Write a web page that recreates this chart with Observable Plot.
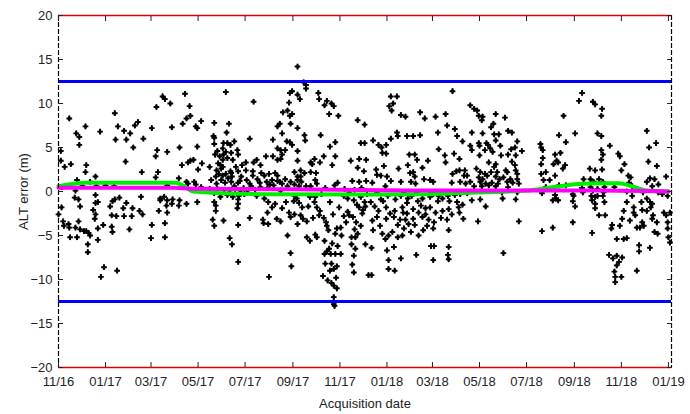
<!DOCTYPE html>
<html><head><meta charset="utf-8">
<script src="https://cdn.jsdelivr.net/npm/d3@7"></script>
<script src="https://cdn.jsdelivr.net/npm/@observablehq/plot@0.6"></script>
<style>body{margin:0;background:#fff} svg{display:block}</style>
</head><body><div id="chart"></div>
<script>
const startDate = "2016-11-01";
const endDate = "2019-01-05";
const yTicks = [-20, -15, -10, -5, 0, 5, 10, 15, 20];
const limits = [12.5, -12.5];
const xLabel = "Acquisition date";
const yLabel = "ALT error (m)";

// [days since start, ALT error (m)]
const segNov16 = [[73,8.9],[127,9.6],[14,8.3],[35,7.4],[77,7.4],[103,7.9],[99,7.5],[121,7.2],[54,6.8],[85,6.9],[93,6.6],[23,6.6],[27,6.2],[74,5.9],[88,5.9],[110,6.0],[27,5.3],[97,5.0],[128,4.7],[3,4.6],[126,4.0],[3,3.5],[87,3.4],[16,3.1],[8,2.8],[36,3.0],[35,2.2],[108,2.2],[129,2.2],[48,1.7],[126,1.6],[24,1.3],[41,1.1],[4,0.5],[31,0.6],[61,0.7],[72,0.6],[22,0.1],[49,0.6],[48,-0.4],[21,-0.7],[26,-0.9],[73,-0.9],[79,-0.7],[70,-1.1],[107,-0.6],[132,-0.8],[48,-1.3],[51,-1.2],[88,-1.3],[28,-1.7],[4,-1.8],[67,-1.7],[84,-1.9],[96,-1.9],[45,-2.1],[130,-2.2],[0,-2.6],[48,-2.6],[105,-2.2],[109,-2.6],[69,-2.7],[75,-2.8],[85,-2.8],[95,-2.8],[6,-3.4],[13,-3.7],[26,-3.4],[47,-3.1],[7,-3.9],[14,-4.1],[22,-4.1],[28,-4.3],[33,-4.5],[36,-4.5],[39,-4.7],[58,-3.8],[51,-4.2],[69,-4.0],[70,-4.6],[92,-4.3],[121,-3.8],[15,-5.2],[24,-5.2],[41,-5.0],[51,-5.5],[120,-5.3],[38,-6.0],[38,-6.9],[59,-8.6],[76,-9.0],[55,-9.7]];

const segMar17 = [[217,11.3],[164,11.1],[135,10.8],[138,10.5],[145,10.0],[253,10.2],[170,9.7],[171,8.6],[166,8.3],[185,8.0],[161,7.7],[178,7.4],[180,7.2],[147,7.3],[202,7.8],[221,7.7],[218,6.7],[201,6.3],[202,6.1],[248,6.0],[228,5.7],[214,5.5],[219,5.5],[223,5.3],[202,5.4],[157,5.0],[180,5.1],[213,4.9],[232,4.7],[206,4.6],[217,4.5],[224,4.4],[141,4.5],[203,4.2],[214,4.2],[233,4.2],[209,4.0],[219,3.8],[213,3.6],[257,3.6],[171,3.5],[175,3.6],[186,3.2],[160,3.0],[168,3.3],[243,3.3],[210,3.0],[213,2.8],[253,3.3],[262,3.0],[181,2.5],[205,2.4],[223,2.3],[233,2.3],[243,2.4],[252,2.3],[263,2.1],[208,2.0],[217,2.0],[224,2.1],[204,1.7],[213,1.8],[225,1.7],[237,1.7],[252,1.8],[156,1.5],[211,1.3],[224,1.1],[235,1.2],[244,1.3],[258,1.4],[267,1.8],[166,1.1],[176,1.1],[168,0.9],[178,0.8],[185,0.5],[205,0.9],[216,1.0],[233,1.0],[248,0.9],[261,1.0],[141,0.7],[202,-0.2],[219,-0.4],[226,-0.6],[234,-0.5],[241,-0.3],[257,-0.5],[137,-0.6],[132,-1.0],[141,-1.0],[148,-0.9],[157,-1.0],[147,-1.4],[166,-1.4],[180,-1.2],[202,-1.2],[233,-0.9],[233,-1.4],[156,-1.6],[140,-1.6],[204,-1.6],[232,-1.9],[141,-2.4],[204,-2.2],[267,-0.8],[138,-3.6],[200,-3.2],[214,-3.3],[202,-3.9],[248,-3.0],[233,-3.8],[265,-3.2],[266,-3.6],[138,-5.2],[222,-5.3],[225,-6.0],[233,-8.0],[207,3.2],[211,2.6],[220,1.5],[228,0.6],[206,0.3],[215,0.2],[222,-0.1],[229,0.3],[240,0.4],[245,-0.1],[250,0.6],[255,0.2],[262,0.5],[198,1.3],[196,2.8],[226,3.6],[236,0.1],[230,2.8],[238,3.0],[210,-0.6],[196,0.3]];

const segAug17 = [[310,14.2],[318,12.4],[321,12.1],[321,11.7],[303,11.4],[310,11.0],[313,10.5],[300,11.2],[337,11.2],[338,10.5],[299,10.1],[348,10.3],[345,9.8],[354,10.0],[357,9.7],[351,8.8],[363,8.6],[297,9.2],[291,9.0],[303,8.8],[300,8.6],[388,8.1],[397,7.6],[287,7.7],[284,7.4],[301,7.7],[310,7.2],[290,6.6],[319,6.4],[320,5.8],[340,6.4],[278,5.9],[296,5.7],[300,5.6],[303,5.3],[284,4.9],[288,4.7],[294,4.7],[359,5.6],[352,5.1],[392,5.5],[397,5.5],[310,4.6],[269,4.0],[278,4.0],[290,4.2],[288,3.7],[284,3.6],[332,3.7],[344,4.0],[359,4.0],[379,3.5],[390,3.7],[399,3.6],[310,3.5],[327,3.3],[339,3.3],[329,3.1],[355,3.0],[388,2.7],[396,2.3],[306,2.2],[314,2.4],[319,2.1],[327,2.2],[334,2.1],[281,2.1],[273,2.0],[284,1.8],[314,1.7],[310,1.7],[294,1.4],[277,1.3],[284,1.2],[287,1.1],[270,1.1],[301,1.1],[310,1.3],[315,1.1],[333,1.3],[335,0.9],[362,1.0],[381,1.2],[390,1.1],[399,1.2],[274,0.8],[279,0.7],[290,0.9],[297,0.6],[306,0.8],[312,0.6],[321,0.6],[327,0.6],[271,0.4],[288,0.1],[306,-0.5],[309,-0.8],[326,-0.6],[333,-0.6],[370,-0.5],[375,-0.8],[392,-0.6],[397,-1.2],[383,-1.0],[272,-1.2],[281,-1.4],[295,-1.2],[305,-1.1],[312,-1.3],[332,-1.2],[335,-1.8],[339,-2.2],[324,-1.7],[316,-1.8],[277,-1.8],[290,-1.9],[271,-2.4],[283,-3.1],[299,-2.4],[301,-2.9],[306,-2.6],[314,-2.7],[317,-3.1],[322,-3.4],[330,-3.0],[338,-2.7],[344,-3.0],[347,-3.5],[348,-3.9],[375,-2.3],[377,-2.7],[395,-2.1],[394,-2.5],[390,-1.8],[398,-1.7],[272,-3.7],[288,-3.4],[310,-3.7],[297,-5.0],[322,-5.2],[326,-5.6],[333,-4.9],[335,-5.2],[345,-5.6],[361,-4.2],[359,-4.8],[366,-4.1],[373,-3.5],[386,-3.5],[384,-4.3],[385,-5.2],[380,-6.0],[385,-6.5],[383,-7.3],[381,-8.3],[383,-9.2],[398,-6.0],[301,-7.0],[302,-8.5],[273,-9.7],[345,-7.1],[351,-6.5],[353,-7.1],[359,-7.1],[366,-7.1],[346,-8.2],[354,-8.2],[357,-8.8],[361,-8.5],[343,-9.6],[349,-10.1],[354,-10.4],[357,-10.7],[361,-11.0],[357,-12.0],[357,-12.8],[358,-13.0],[402,-9.5],[367,-5.0],[350,-4.4],[355,-5.9],[348,-6.8],[362,-6.2],[352,-9.0],[360,-9.8],[380,-5.2],[388,-4.8],[392,-3.9],[382,-2.9],[387,-1.5],[370,-2.8],[364,-1.8],[356,-2.6],[352,-1.2],[341,-0.3],[346,0.4],[358,0.7],[371,0.3],[377,-0.2],[384,0.2],[393,0.4],[400,-0.3]];

const segDec17 = [[511,11.4],[431,10.8],[439,10.8],[429,9.7],[434,10.0],[432,9.2],[444,8.7],[450,8.5],[469,9.0],[475,8.3],[489,8.5],[502,8.8],[534,9.8],[539,9.4],[504,7.5],[492,6.7],[514,7.1],[517,6.3],[524,5.7],[536,6.7],[439,6.7],[440,6.3],[452,6.3],[460,6.3],[469,6.4],[431,6.0],[408,5.8],[415,5.3],[425,5.3],[419,5.0],[420,4.4],[425,4.3],[455,4.2],[462,4.2],[465,3.6],[493,4.8],[501,4.1],[513,4.3],[520,3.7],[536,4.7],[534,5.2],[479,3.5],[502,3.3],[422,2.9],[412,2.5],[453,3.0],[441,2.6],[460,2.2],[472,2.7],[413,1.9],[418,1.8],[426,1.7],[456,2.1],[462,1.7],[511,2.0],[516,2.3],[520,2.4],[527,2.4],[526,1.8],[530,1.8],[431,1.2],[444,1.1],[457,1.1],[474,1.4],[482,1.3],[486,1.1],[463,0.9],[510,1.0],[521,1.1],[528,0.9],[534,1.1],[539,0.6],[407,1.0],[424,0.6],[413,-0.2],[427,-0.5],[448,-0.1],[465,-0.2],[483,-0.1],[493,-0.5],[505,-0.5],[514,-0.4],[521,-0.3],[530,-0.2],[536,-1.0],[405,-1.2],[421,-1.1],[437,-0.9],[453,-0.8],[466,-1.1],[472,-0.8],[482,-0.6],[492,-1.1],[498,-0.8],[507,-1.1],[517,-1.2],[524,-1.5],[519,-1.8],[410,-1.7],[415,-2.2],[425,-1.8],[446,-1.8],[447,-2.4],[452,-2.5],[460,-2.0],[467,-2.4],[476,-1.9],[482,-1.8],[489,-2.4],[498,-2.2],[506,-2.0],[525,-3.1],[520,-2.4],[407,-3.3],[413,-2.9],[417,-3.9],[425,-3.1],[435,-2.9],[443,-3.2],[450,-3.2],[454,-3.7],[460,-3.1],[472,-2.9],[480,-3.2],[487,-3.5],[504,-3.2],[408,-4.4],[420,-4.8],[424,-5.4],[428,-5.0],[433,-4.6],[440,-5.2],[446,-5.0],[457,-4.6],[467,-5.0],[473,-4.4],[478,-3.9],[486,-4.2],[506,-4.4],[435,-6.3],[426,-6.7],[406,-6.4],[444,-7.6],[428,-7.8],[428,-8.8],[436,-9.0],[464,-7.2],[483,-6.2],[487,-6.2],[486,-7.8],[506,-6.3],[505,-7.2],[506,-7.7],[406,-9.5],[436,-2.2],[440,-3.8],[448,-4.2],[452,-1.3],[458,-0.5],[470,-1.6],[476,-2.6],[486,-0.3],[430,-2.5],[418,-0.9],[444,-0.5],[462,-3.8],[496,-3.0],[510,-2.6]];

const segApr18 = [[675,10.3],[655,8.6],[649,6.4],[670,6.6],[658,5.6],[567,8.8],[579,8.4],[543,9.2],[545,8.6],[550,8.5],[549,8.1],[564,7.7],[561,7.3],[583,6.9],[588,6.7],[550,6.6],[565,6.5],[571,6.5],[567,5.8],[545,5.5],[555,5.5],[546,5.2],[557,5.3],[573,5.2],[595,5.7],[592,5.0],[587,4.8],[601,4.6],[625,5.4],[626,5.0],[628,4.7],[644,4.2],[651,4.4],[560,4.9],[563,4.5],[553,4.7],[546,4.1],[574,4.1],[583,4.2],[593,4.1],[628,3.8],[646,3.5],[642,3.1],[648,3.3],[657,3.0],[654,2.6],[558,3.3],[567,3.1],[565,2.8],[588,3.4],[592,3.0],[626,3.1],[542,2.6],[547,2.2],[553,2.0],[561,2.2],[569,2.2],[580,2.4],[582,2.2],[593,2.4],[595,2.0],[632,2.2],[644,1.8],[626,2.0],[545,1.6],[550,1.4],[556,1.8],[567,1.7],[572,1.4],[577,1.6],[586,1.4],[595,1.4],[629,1.3],[637,1.3],[547,1.1],[554,0.9],[562,1.0],[570,0.9],[582,1.1],[589,1.0],[597,0.9],[549,0.6],[558,0.7],[567,0.6],[583,0.5],[649,0.7],[658,0.7],[632,0.5],[575,-0.1],[595,-0.1],[627,-0.2],[644,-0.4],[667,-0.3],[547,-0.9],[576,-0.8],[593,-0.9],[641,-1.0],[648,-1.0],[645,-0.8],[667,-1.1],[668,-0.5],[554,-1.7],[670,-1.7],[544,-3.4],[597,-3.4],[627,-4.5],[641,-4.1],[667,-3.5],[577,-7.0]];

const segSep18 = [[679,11.2],[693,10.2],[696,9.9],[705,9.4],[704,8.6],[699,6.6],[704,6.3],[763,6.9],[775,5.5],[766,5.0],[715,5.2],[704,4.7],[706,4.2],[726,4.3],[728,4.0],[704,3.6],[765,3.4],[734,3.1],[776,2.9],[689,2.6],[696,2.4],[705,2.5],[730,2.4],[739,1.8],[742,1.6],[788,1.7],[767,1.5],[773,1.4],[681,1.4],[690,1.4],[694,1.1],[701,1.4],[706,1.1],[740,1.0],[763,1.1],[778,0.8],[679,0.4],[680,-0.1],[690,0.5],[693,0.1],[699,0.3],[708,0.5],[707,-0.1],[721,0.5],[744,0.6],[770,0.6],[778,-0.1],[790,-0.5],[691,-0.5],[696,-0.6],[699,-0.5],[706,-0.5],[737,0.0],[744,-0.5],[758,-0.1],[763,-0.8],[767,-1.2],[783,-0.3],[692,-1.0],[696,-1.4],[696,-1.9],[708,-1.2],[737,-1.2],[746,-1.8],[756,-1.2],[770,-1.4],[768,-1.8],[785,-2.4],[788,-2.7],[793,-2.4],[701,-2.7],[709,-2.7],[733,-2.2],[746,-2.4],[748,-2.7],[757,-2.1],[763,-2.2],[771,-2.7],[731,-3.1],[741,-3.3],[757,-3.5],[770,-3.1],[776,-3.5],[790,-3.5],[718,-3.8],[717,-4.2],[728,-3.9],[750,-4.1],[754,-4.1],[759,-3.9],[773,-4.6],[777,-4.8],[790,-4.2],[791,-5.2],[692,-4.7],[724,-5.4],[733,-5.4],[737,-5.3],[753,-6.1],[753,-6.8],[767,-6.4],[714,-7.2],[719,-7.6],[724,-7.3],[731,-7.5],[727,-8.0],[724,-8.4],[721,-9.1],[722,-9.7],[722,-10.3],[730,-9.7],[750,-9.0],[793,-5.8]];

// smoothed trend (green) and long-term trend (magenta): [day, m]
const greenTrend = [[0,0.6],[22,0.9],[35,1.0],[152,1.0],[161,0.7],[175,0.0],[262,-0.3],[405,-0.35],[482,-0.3],[541,-0.1],[606,0.1],[638,0.45],[674,0.85],[703,0.95],[726,0.95],[761,0.15],[791,0.0]];
const magentaTrend = [[0,0.42],[150,0.42],[175,0.3],[300,0.25],[450,0.12],[700,0.1],[791,0.0]];

const base = new Date(startDate + "T00:00:00Z");
const end = new Date(endDate + "T00:00:00Z");
const toDate = d => new Date(+base + d * 864e5);
const pts = [...segNov16, ...segMar17, ...segAug17, ...segDec17, ...segApr18, ...segSep18]
  .map(([d, v]) => ({date: toDate(d), alt: v}));
const green = greenTrend.map(([d, v]) => ({date: toDate(d), v}));
const magenta = magentaTrend.map(([d, v]) => ({date: toDate(d), v}));
const monthTicks = d3.utcMonth.every(2).range(base, end);

const plot = Plot.plot({
  width: 690, height: 414,
  marginLeft: 58, marginRight: 19, marginTop: 15, marginBottom: 47,
  style: {fontFamily: "'Liberation Sans', Arial, sans-serif", fontSize: "13px", color: "#222", background: "#fff"},
  x: {type: "utc", domain: [base, end]},
  y: {domain: [-20, 20]},
  marks: [
    Plot.dot(pts, {x: "date", y: "alt", symbol: "cross", r: 2.4, fill: "black", stroke: "none"}),
    Plot.dot(pts, {x: "date", y: "alt", symbol: "diamond", r: 1.9, fill: "black", stroke: "none"}),
    Plot.line(green, {x: "date", y: "v", stroke: "#00ee00", strokeWidth: 4, curve: "monotone-x"}),
    Plot.line(magenta, {x: "date", y: "v", stroke: "#ff00ff", strokeWidth: 4, curve: "monotone-x"}),
    Plot.ruleY(limits, {stroke: "#0000ff", strokeWidth: 3}),
    Plot.ruleX([base, end], {stroke: "black", strokeWidth: 1.2, strokeDasharray: "5,2"}),
    Plot.ruleY([20, -20], {stroke: "#e00000", strokeWidth: 1.5}),
    Plot.axisY({anchor: "left", ticks: yTicks, tickSize: -5, tickFormat: () => "", label: null}),
    Plot.axisY({anchor: "right", ticks: yTicks, tickSize: -5, tickFormat: () => "", label: null}),
    Plot.axisY({anchor: "left", ticks: yTicks, tickSize: 0, tickPadding: 6, label: yLabel, labelAnchor: "center", labelArrow: "none", labelOffset: 40}),
    Plot.axisX({anchor: "top", ticks: monthTicks, tickSize: -5, tickFormat: () => "", label: null}),
    Plot.axisX({anchor: "bottom", ticks: monthTicks, tickSize: -5, tickFormat: () => "", label: null}),
    Plot.axisX({anchor: "bottom", ticks: monthTicks, tickSize: 0, tickPadding: 9, tickFormat: d3.utcFormat("%m/%y"), label: xLabel, labelAnchor: "center", labelArrow: "none", labelOffset: 40})
  ]
});
document.getElementById("chart").appendChild(plot);
</script>
</body></html>
